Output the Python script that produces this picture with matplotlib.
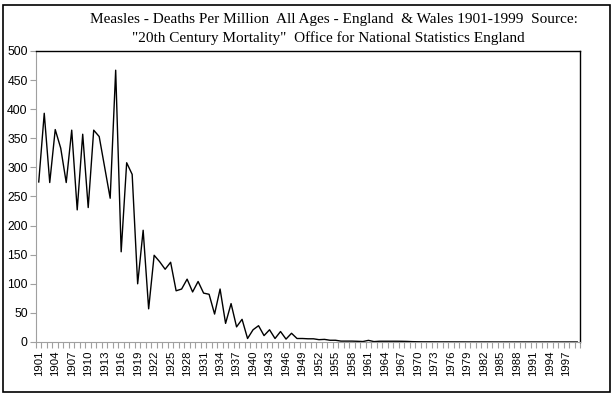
import matplotlib
matplotlib.use("Agg")
import matplotlib.pyplot as plt
from matplotlib.patches import Rectangle
from matplotlib.ticker import FixedLocator

years = list(range(1901, 2000))
deaths = [
    275, 393, 274, 365, 333, 274, 364, 227, 357, 231,   # 1901-1910
    364, 353, 300, 247, 467, 155, 308, 288, 100, 192,   # 1911-1920
    57, 149, 138, 125, 137, 88, 91, 108, 86, 104,       # 1921-1930
    84, 82, 48, 91, 32, 66, 26, 39, 6, 21,              # 1931-1940
    28, 11, 21, 6, 18, 5, 15, 6, 6, 5.5,                # 1941-1950
    5.5, 4, 4.5, 3, 3, 1.5, 1.5, 1.5, 1.2, 0.8,         # 1951-1960
    2.8, 0.7, 1.3, 1.3, 1.3, 1.3, 1.2, 1.0, 0.6, 0.4,   # 1961-1970
    0.3, 0.3, 0.25, 0.2, 0.2, 0.2, 0.15, 0.15, 0.1, 0.1,  # 1971-1980
    0.1, 0.1, 0.1, 0.05, 0.05, 0.05, 0.05, 0.05, 0.05, 0.05,  # 1981-1990
    0.05, 0.05, 0.05, 0.05, 0.05, 0.05, 0.05, 0.05, 0.05,  # 1991-1999
]
yticks = [0, 50, 100, 150, 200, 250, 300, 350, 400, 450, 500]
title_lines = [
    "Measles - Deaths Per Million  All Ages - England  & Wales 1901-1999  Source:",
    '"20th Century Mortality"  Office for National Statistics England',
]

fig = plt.figure(figsize=(6.15, 3.95), dpi=100)
fig.patch.set_facecolor("white")

# outer chart border
fig.patches.append(Rectangle((3 / 615, 1 - 392 / 395), 607 / 615, 387 / 395,
                             transform=fig.transFigure, fill=False,
                             edgecolor="black", linewidth=1.2))

ax = fig.add_axes([36 / 615, 1 - 342 / 395, 544 / 615, 291 / 395])
x = list(range(len(years)))
ax.plot(x, deaths, color="black", linewidth=1.0)

ax.set_xlim(-0.5, len(years) - 0.5)
ax.set_ylim(0, 500)

ax.yaxis.set_major_locator(FixedLocator(yticks))
ax.set_yticklabels([str(v) for v in yticks], family="Liberation Sans", fontsize=8.8)

label_idx = [i for i, yv in enumerate(years) if (yv - 1901) % 3 == 0]
ax.xaxis.set_major_locator(FixedLocator(label_idx))
ax.set_xticklabels([str(years[i]) for i in label_idx], rotation=90,
                   family="Liberation Sans", fontsize=8.2)
ax.xaxis.set_minor_locator(FixedLocator([i - 0.5 for i in range(len(years) + 1)]))

ax.tick_params(axis="x", which="major", length=0, pad=6)
ax.tick_params(axis="x", which="minor", length=4, color="#a0a0a0", width=0.8, direction="out")
ax.tick_params(axis="y", which="major", length=4, color="#a0a0a0", width=0.8, pad=2)

for side in ("left", "bottom"):
    ax.spines[side].set_color("#a0a0a0")
    ax.spines[side].set_linewidth(0.8)
for side in ("top", "right"):
    ax.spines[side].set_color("black")
    ax.spines[side].set_linewidth(1.0)

fig.text(334 / 615, 1 - 19 / 395, title_lines[0], ha="center", va="center",
         family="Liberation Serif", fontsize=11.0)
fig.text(328 / 615, 1 - 38 / 395, title_lines[1], ha="center", va="center",
         family="Liberation Serif", fontsize=11.0)

fig.savefig("out.png", dpi=100, facecolor="white")
